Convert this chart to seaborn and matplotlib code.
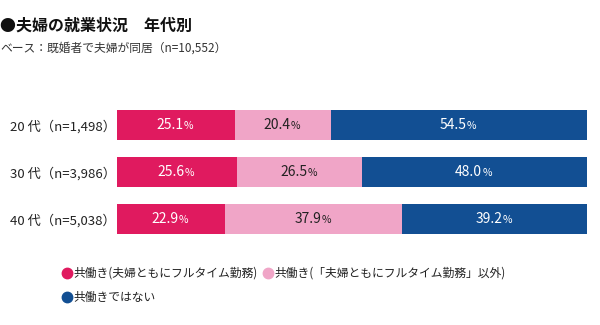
import matplotlib
matplotlib.use("Agg")
import matplotlib.pyplot as plt
import seaborn as sns
import numpy as np
import pandas as pd
from matplotlib.lines import Line2D

categories = ["20 代（n=1,498）", "30 代（n=3,986）", "40 代（n=5,038）"]
full_time = [25.1, 25.6, 22.9]
other_work = [20.4, 26.5, 37.9]
not_both = [54.5, 48.0, 39.2]
series_names = ["共働き(夫婦ともにフルタイム勤務)",
                "共働き(「夫婦ともにフルタイム勤務」以外)",
                "共働きではない"]
colors = ["#E01A5F", "#F0A5C7", "#124F93"]
title = "●夫婦の就業状況　年代別"
subtitle = "ベース：既婚者で夫婦が同居（n=10,552）"

sns.set_theme(style="white")
plt.rcParams['font.family'] = ['Noto Sans CJK JP', 'DejaVu Sans']

W, H = 600, 325
fig = plt.figure(figsize=(6, 3.25), dpi=100)
ax = fig.add_axes([117/W, 1 - 242.5/H, 470/W, 141/H])

fa = np.array(full_time)
oa = np.array(other_work)
na = np.array(not_both)
c1 = fa
c2 = fa + oa
c3 = fa + oa + na

df = pd.DataFrame({"cat": categories, "c1": c1, "c2": c2, "c3": c3})
for col, color in zip(["c3", "c2", "c1"], [colors[2], colors[1], colors[0]]):
    sns.barplot(data=df, x=col, y="cat", color=color, orient="h",
                width=0.64, ax=ax, saturation=1, linewidth=0)

ax.set_xlim(0, c3.max())
ax.set_ylim(2.5, -0.5)
ax.set_xlabel("")
ax.set_ylabel("")
ax.set_xticks([])
ax.tick_params(axis="y", length=0, labelsize=9.5, pad=1, colors="#222222")
for s in ax.spines.values():
    s.set_visible(False)

def put_label(x, y, v, color):
    t = ax.text(x, y, f"{v:.1f}", ha="center", va="center", fontsize=10,
                color=color)
    ax.annotate("%", xy=(1, 0.08), xycoords=t, fontsize=7.5, color=color,
                ha="left", va="bottom")

starts = [np.zeros_like(fa), c1, c2]
vals = [fa, oa, na]
txtcolors = ["white", "#222222", "white"]
for st, vv, tc in zip(starts, vals, txtcolors):
    for i, v in enumerate(vv):
        put_label(st[i] + v / 2 - 1.2, i, v, tc)

fig.text(0/W, 1 - 26/H, title, fontsize=11.5, fontweight="bold",
         va="center", ha="left", color="#111111")
fig.text(0/W, 1 - 48/H, subtitle, fontsize=8.5, va="center", ha="left",
         color="#333333")

# legend drawn manually in figure pixels
leg_pos = [(67, 273), (268, 273), (67, 297)]
for (px, py), name, c in zip(leg_pos, series_names, colors):
    fig.add_artist(Line2D([px / W], [1 - py / H], marker="o", linestyle="",
                          markersize=7.5, markerfacecolor=c,
                          markeredgecolor=c, transform=fig.transFigure))
    fig.text((px + 6.5) / W, 1 - py / H, name, fontsize=8.5, va="center",
             ha="left", color="#222222")

fig.savefig("out.png", dpi=100)
